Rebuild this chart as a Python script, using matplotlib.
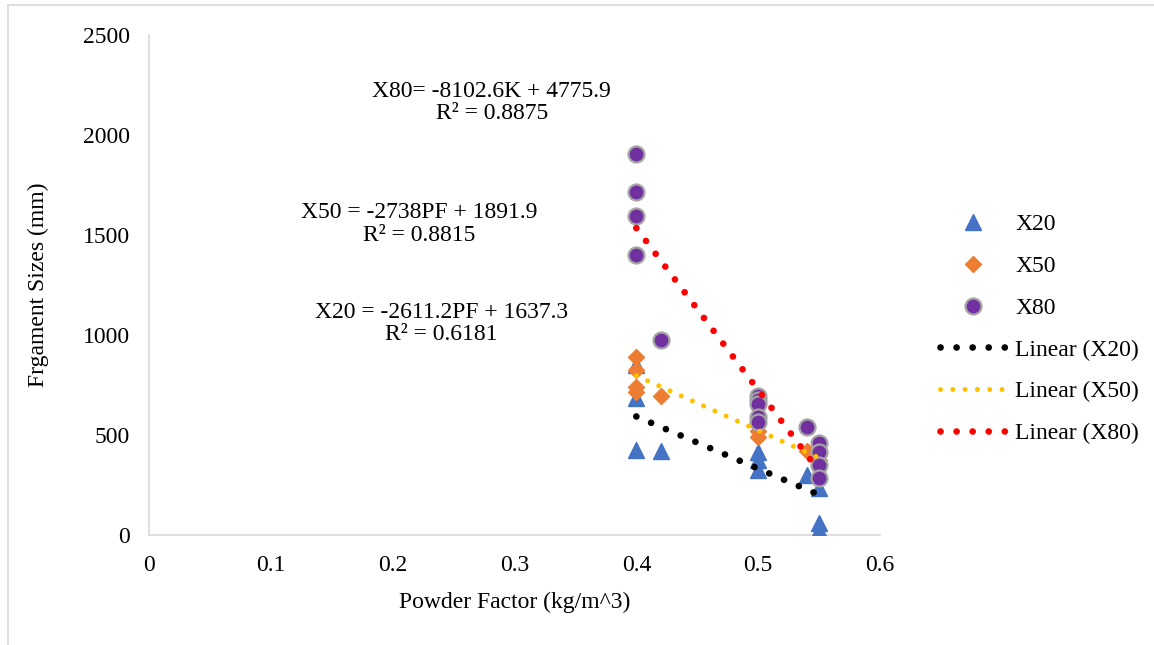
import numpy as np
import matplotlib.pyplot as plt
from matplotlib.lines import Line2D

plt.rcParams['font.family'] = ['Liberation Serif', 'DejaVu Serif']

# powder factor (kg/m^3) and fragment sizes (mm)
pf20 = [0.40, 0.40, 0.40, 0.42, 0.50, 0.50, 0.50, 0.54, 0.55, 0.55, 0.55]
x20 = [850, 685, 425, 418, 415, 375, 325, 300, 235, 58, 25]
pf50 = [0.40, 0.40, 0.40, 0.40, 0.42, 0.50, 0.50, 0.54, 0.55, 0.55]
x50 = [890, 825, 742, 717, 695, 522, 492, 420, 400, 375]
pf80 = [0.40, 0.40, 0.40, 0.40, 0.42, 0.50, 0.50, 0.50, 0.50, 0.50,
        0.54, 0.55, 0.55, 0.55, 0.55]
x80 = [1905, 1713, 1597, 1400, 975, 695, 675, 655, 592, 567,
       540, 458, 417, 350, 283]

# trendline coefficients (slope, intercept) as printed on the chart
fit20 = (-2611.2, 1637.3)
fit50 = (-2738.0, 1891.9)
fit80 = (-8102.6, 4775.9)

xticks = [0, 0.1, 0.2, 0.3, 0.4, 0.5, 0.6]
xticklabels = ['0', '0.1', '0.2', '0.3', '0.4', '0.5', '0.6']
yticks = [0, 500, 1000, 1500, 2000, 2500]

fig = plt.figure(figsize=(11.54, 6.45), dpi=100)
ax = fig.add_axes([0.129, 0.1705, 0.6336, 0.7752])

ax.plot(pf20, x20, ls='none', marker='^', ms=11, color='#4472C4', label='X20', zorder=3)
ax.plot(pf50, x50, ls='none', marker='D', ms=8, color='#ED7D31', label='X50', zorder=4)
ax.plot(pf80, x80, ls='none', marker='o', ms=11.5, mfc='#7030A0', mec='#A5A5A5',
        mew=1.6, label='X80', zorder=5)

xs = np.array([0.4, 0.55])
ax.plot(xs, fit20[0] * xs + fit20[1], color='black', lw=4.8, ls=(0, (0.01, 2.4)),
        dash_capstyle='round', label='Linear (X20)', zorder=6)
ax.plot(xs, fit50[0] * xs + fit50[1], color='#FFC000', lw=3.6, ls=(0, (0.01, 2.45)),
        dash_capstyle='round', label='Linear (X50)', zorder=6)
ax.plot(xs, fit80[0] * xs + fit80[1], color='#FF0000', lw=4.8, ls=(0, (0.01, 2.4)),
        dash_capstyle='round', label='Linear (X80)', zorder=6)

ax.text(0.2814, 2163, 'X80= -8102.6K + 4775.9\nR² = 0.8875', ha='center', va='center',
        fontsize=17, linespacing=1.1)
ax.text(0.222, 1555, 'X50 = -2738PF + 1891.9\nR² = 0.8815', ha='center', va='center',
        fontsize=17, linespacing=1.1)
ax.text(0.240, 1057, 'X20 = -2611.2PF + 1637.3\nR² = 0.6181', ha='center', va='center',
        fontsize=17, linespacing=1.1)

ax.set_xlim(0, 0.6)
ax.set_ylim(0, 2500)
ax.set_xticks(xticks)
ax.set_xticklabels(xticklabels)
ax.set_yticks(yticks)
ax.tick_params(axis='y', length=0, labelsize=17, pad=13.7)
ax.tick_params(axis='x', length=0, labelsize=17, pad=14.5)
for side in ['top', 'right']:
    ax.spines[side].set_visible(False)
for side in ['left', 'bottom']:
    ax.spines[side].set_color('#D9D9D9')
    ax.spines[side].set_linewidth(1.2)

ax.set_xlabel('Powder Factor (kg/m^3)', fontsize=17, labelpad=11)
ax.set_ylabel('Frgament Sizes (mm)', fontsize=17, labelpad=24)

ax.legend(loc='center left', bbox_to_anchor=(0.796, 0.49), bbox_transform=fig.transFigure,
          frameon=False, fontsize=17, handlelength=2.8, labelspacing=0.86,
          handletextpad=0.4)

# light frame on the left and top edges
fig.add_artist(Line2D([0.007, 0.007], [0, 0.992], color='#D9D9D9', lw=1.2))
fig.add_artist(Line2D([0.007, 1], [0.992, 0.992], color='#D9D9D9', lw=1.2))

fig.savefig('out.png', dpi=100)
